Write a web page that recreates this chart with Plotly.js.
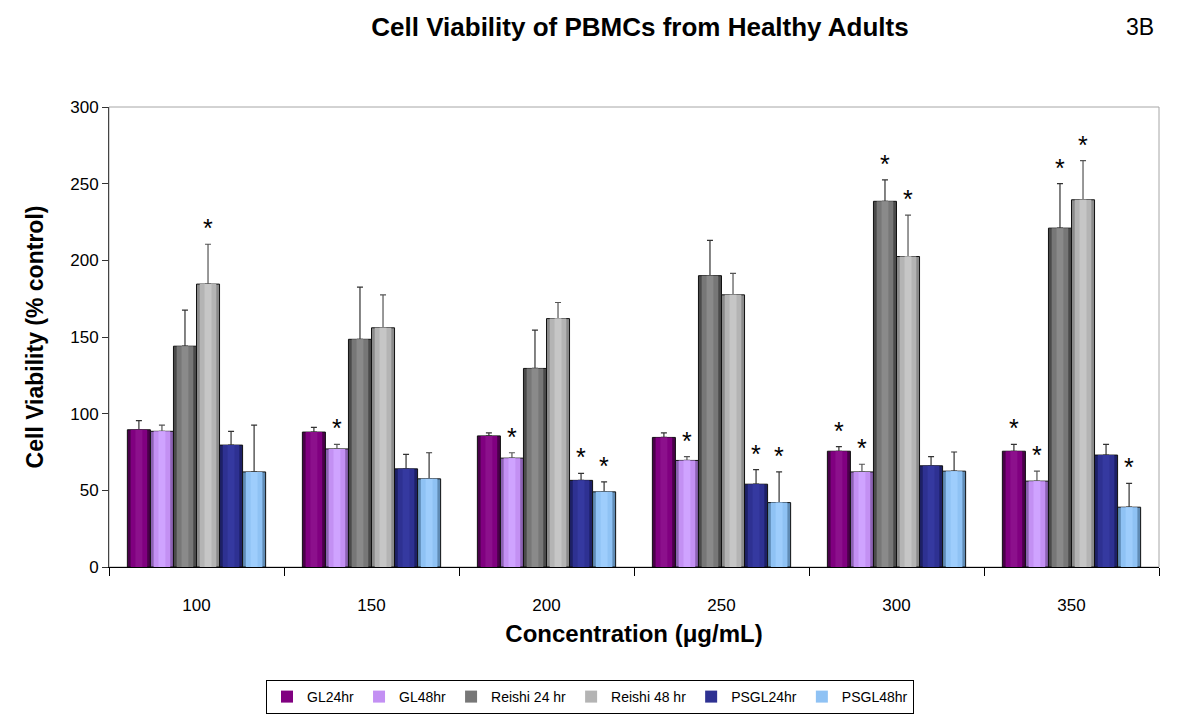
<!DOCTYPE html>
<html>
<head>
<meta charset="utf-8">
<script src="https://cdn.plot.ly/plotly-3.0.1.min.js"></script>
<style>html,body{margin:0;padding:0;background:#fff;}#chart{width:1179px;height:720px;}</style>
</head>
<body>
<div id="chart"></div>
<script>
// ---- data ----
var concentrations = ["100", "150", "200", "250", "300", "350"];
var seriesNames = ["GL24hr", "GL48hr", "Reishi 24 hr", "Reishi 48 hr", "PSGL24hr", "PSGL48hr"];

var gl24      = [89.5, 88, 85.5, 84.5, 75.5, 75.5];
var gl48      = [88.5, 77, 71, 69.5, 62, 56];
var reishi24  = [144, 148.5, 129.5, 190, 238.5, 221];
var reishi48  = [184.5, 156, 162, 177.5, 202.5, 239.5];
var psgl24    = [79.5, 64, 56.5, 54, 66, 73];
var psgl48    = [62, 57.5, 49, 42, 62.5, 39];

var gl24Err     = [6, 3, 2, 3, 3, 4.5];
var gl48Err     = [4, 3, 3.5, 2.5, 5, 6.5];
var reishi24Err = [23.5, 34, 25, 23, 14, 29];
var reishi48Err = [26, 21.5, 10.5, 14, 27, 25.5];
var psgl24Err   = [9, 9.5, 4.5, 9.5, 6, 7];
var psgl48Err   = [30.5, 17, 6.5, 20, 12.5, 15.5];

// significance markers (*)
var gl24Sig     = [0, 0, 0, 0, 1, 1];
var gl48Sig     = [0, 1, 1, 1, 1, 1];
var reishi24Sig = [0, 0, 0, 0, 1, 1];
var reishi48Sig = [1, 0, 0, 0, 1, 1];
var psgl24Sig   = [0, 0, 1, 1, 0, 0];
var psgl48Sig   = [0, 0, 1, 1, 0, 1];

// ---- styling ----
var values = [gl24, gl48, reishi24, reishi48, psgl24, psgl48];
var errs = [gl24Err, gl48Err, reishi24Err, reishi48Err, psgl24Err, psgl48Err];
var sigs = [gl24Sig, gl48Sig, reishi24Sig, reishi48Sig, psgl24Sig, psgl48Sig];
var edgeColors = ["#4a004a", "#8c62b3", "#4a4a4a", "#8a8a8a", "#1d2066", "#5f8bb5"];
var midColors  = ["#800080", "#c390f3", "#777777", "#b4b4b4", "#2e3192", "#8fc2f4"];
var hiColors   = ["#8c108c", "#cfa3ff", "#8a8a8a", "#c6c6c6", "#3539a0", "#9ecdfc"];
var errColors = ["#333333", "#555555", "#333333", "#555555", "#333333", "#333333"];

var bargap = 0.21;
var nSeries = values.length;
var barW = (1 - bargap) / nSeries;
var FONT = "Liberation Sans, Arial, Helvetica, sans-serif";

var traces = [];
// base bars (outline + error bars)
for (var s = 0; s < nSeries; s++) {
  traces.push({
    type: "bar", name: seriesNames[s], showlegend: false,
    x: concentrations, y: values[s],
    alignmentgroup: "a", offsetgroup: "g" + s,
    marker: {color: edgeColors[s], line: {color: "#111111", width: 1}},
    error_y: {
      type: "data", symmetric: false, array: errs[s],
      arrayminus: values[s].map(function(){return 0;}),
      color: errColors[s], thickness: 1.2, width: 3
    },
    hoverinfo: "x+y+name"
  });
}
// shading layers to imitate the cylinder gradient
for (var s3 = 0; s3 < nSeries; s3++) {
  traces.push({
    type: "bar", name: seriesNames[s3], showlegend: true,
    x: concentrations, y: values[s3],
    alignmentgroup: "a", offsetgroup: "g" + s3,
    width: barW * 0.72,
    marker: {color: midColors[s3], line: {width: 0}},
    hoverinfo: "skip"
  });
}
for (var s4 = 0; s4 < nSeries; s4++) {
  traces.push({
    type: "bar", name: seriesNames[s4], showlegend: false,
    x: concentrations, y: values[s4],
    alignmentgroup: "a", offsetgroup: "g" + s4,
    width: barW * 0.3,
    marker: {color: hiColors[s4], line: {width: 0}},
    hoverinfo: "skip"
  });
}

var annotations = [];
for (var s2 = 0; s2 < nSeries; s2++) {
  for (var i = 0; i < concentrations.length; i++) {
    if (sigs[s2][i]) {
      annotations.push({
        xref: "x", yref: "y",
        x: i + (s2 - (nSeries - 1) / 2) * barW,
        y: values[s2][i] + errs[s2][i],
        text: "*", showarrow: false,
        yanchor: "middle", yshift: 16,
        font: {family: FONT, size: 25, color: "#000"}
      });
    }
  }
}
annotations.push({
  xref: "paper", yref: "paper", x: 0.997, y: 1.174,
  xanchor: "right", yanchor: "middle", showarrow: false,
  text: "3B", font: {family: FONT, size: 23, color: "#000"}
});

var layout = {
  width: 1179, height: 720,
  margin: {l: 109, r: 20, t: 107, b: 153},
  paper_bgcolor: "#ffffff", plot_bgcolor: "#ffffff",
  barmode: "group", bargap: bargap, bargroupgap: 0,
  showlegend: true,
  title: {
    text: "<b>Cell Viability of PBMCs from Healthy Adults</b>",
    xref: "container", x: 640 / 1179, xanchor: "center",
    yref: "container", y: 1 - 27 / 720, yanchor: "middle",
    font: {family: FONT, size: 26, color: "#000"}
  },
  xaxis: {
    type: "category",
    tickson: "boundaries", ticks: "outside", ticklen: 8, tickcolor: "#000", tickwidth: 1,
    ticklabelstandoff: 23,
    showline: true, linecolor: "#000", linewidth: 1,
    showgrid: false, zeroline: false,
    tickfont: {family: FONT, size: 17, color: "#000"},
    title: {text: "<b>Concentration (μg/mL)</b>", standoff: 10,
      font: {family: FONT, size: 24, color: "#000"}}
  },
  yaxis: {
    range: [0, 300], dtick: 50, tick0: 0,
    ticks: "outside", ticklen: 6, tickcolor: "#333", tickwidth: 1,
    showline: true, linecolor: "#444", linewidth: 1,
    showgrid: false, zeroline: false,
    tickfont: {family: FONT, size: 17, color: "#000"},
    title: {text: "<b>Cell Viability (% control)</b>", standoff: 20,
      font: {family: FONT, size: 23, color: "#000"}}
  },
  legend: {
    orientation: "h",
    xref: "container", x: 590 / 1179, xanchor: "center",
    yref: "container", y: 1 - 697 / 720, yanchor: "middle",
    bgcolor: "#ffffff", bordercolor: "#000", borderwidth: 1,
    itemwidth: 30, traceorder: "normal",
    font: {family: FONT, size: 14, color: "#000"}
  },
  shapes: [{
    type: "rect", xref: "paper", yref: "paper", x0: 0, x1: 1, y0: 0, y1: 1,
    line: {color: "#a6a6a6", width: 1}, layer: "below"
  }],
  annotations: annotations
};

Plotly.newPlot("chart", traces, layout, {displayModeBar: false, staticPlot: true});
</script>
</body>
</html>
